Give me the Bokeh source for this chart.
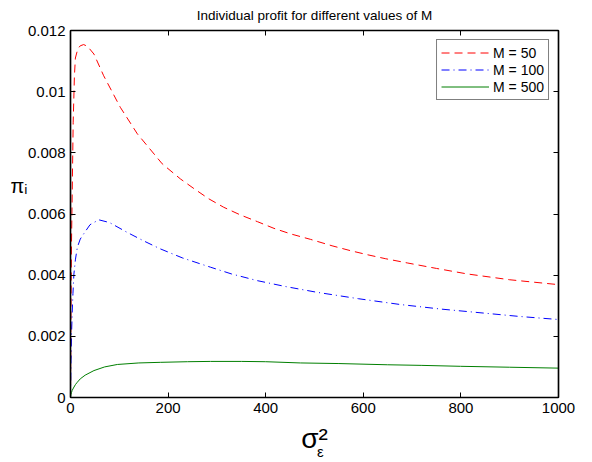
from bokeh.plotting import figure
from bokeh.models import (Range1d, LinearAxis, Legend, LegendItem, FixedTicker,
                          Title)
from bokeh.embed import file_html
from bokeh.resources import INLINE

FONT = "Liberation Sans"

# ---- data ----
x_m50 = [0, 1, 2, 3.5, 5.5, 8, 10, 15, 20, 27, 35, 48, 68, 102, 137, 188,
         225, 253, 283, 314, 348, 383, 417, 451, 492, 536, 574, 608, 645,
         690, 750, 813, 900, 1000]
y_m50 = [0, 0.0030, 0.0050, 0.0067, 0.0090, 0.0105, 0.0111, 0.0114, 0.01150,
         0.01154, 0.01148, 0.01123, 0.01052, 0.00949, 0.00862, 0.00764,
         0.00715, 0.00683, 0.00650, 0.00622, 0.00597, 0.00575, 0.00553,
         0.00535, 0.00517, 0.00496, 0.00480, 0.00467, 0.00454, 0.00440,
         0.00422, 0.00404, 0.00385, 0.00369]

x_m100 = [0, 1, 2, 3.4, 5, 7, 10, 14, 20, 27, 40, 58, 80, 116, 150, 184,
          230, 287, 330, 383, 440, 505, 590, 676, 760, 847, 920, 1000]
y_m100 = [0, 0.0012, 0.0020, 0.00274, 0.0034, 0.00404, 0.00450, 0.00491,
          0.00518, 0.00535, 0.00565, 0.00581, 0.00572, 0.00540, 0.00512,
          0.00486, 0.00456, 0.00426, 0.00404, 0.00382, 0.00363, 0.00344,
          0.00323, 0.00304, 0.00289, 0.00276, 0.00265, 0.00255]

x_m500 = [0, 1, 2, 3.4, 6, 10, 14, 20, 30, 48, 70, 96, 140, 184, 240, 287,
          350, 400, 471, 550, 650, 720, 799, 900, 1000]
y_m500 = [0, 0.00010, 0.00016, 0.00023, 0.00031, 0.00042, 0.00050, 0.00061,
          0.00073, 0.00088, 0.00100, 0.00108, 0.00113, 0.00115, 0.00117,
          0.00118, 0.00118, 0.00117, 0.00113, 0.00111, 0.00107, 0.00105,
          0.00102, 0.00099, 0.00096]

series_labels = ["M = 50", "M = 100", "M = 500"]
x_ticks = [0, 200, 400, 600, 800, 1000]
y_ticks = [0, 0.002, 0.004, 0.006, 0.008, 0.01, 0.012]
y_tick_text = ["0", "0.002", "0.004", "0.006", "0.008", "0.01", "0.012"]
title_text = "Individual profit for different values of M"

# axis titles (symbol, script) and where along the axis they sit
x_title_main = "σ²"
x_title_sub = "ε"
x_title_at = 500
x_title_sub_at = 512
y_title = "πᵢ"
y_title_at = 0.0069

# ---- figure ----
p = figure(width=592, height=462, output_backend="svg",
           toolbar_location=None,
           x_range=Range1d(0, 1000), y_range=Range1d(0, 0.012),
           min_border_left=70, min_border_right=34, min_border_top=30,
           min_border_bottom=65, x_axis_type=None, y_axis_type=None)
p.grid.visible = False
p.outline_line_color = "black"
p.outline_line_width = 1.2
p.background_fill_color = "white"
p.border_fill_color = "white"


def make_axis(ticks, show_labels, overrides=None):
    ax = LinearAxis(ticker=FixedTicker(ticks=ticks))
    ax.minor_tick_line_color = None
    ax.major_tick_in = 5
    ax.major_tick_out = 0
    ax.major_tick_line_color = "black"
    ax.axis_line_color = "black"
    ax.axis_line_width = 1.5
    ax.major_tick_line_width = 1
    if show_labels:
        ax.major_label_text_font = FONT
        ax.major_label_text_font_size = "15px"
        ax.major_label_text_color = "black"
        ax.major_label_standoff = 5
        if overrides:
            ax.major_label_overrides = overrides
    else:
        ax.major_label_text_font_size = "1px"
        ax.major_label_text_color = None
        ax.major_label_standoff = 0
    return ax


def title_axis(at, text, size, standoff):
    ax = LinearAxis(ticker=FixedTicker(ticks=[at]),
                    major_label_overrides={at: text})
    ax.axis_line_color = None
    ax.major_tick_line_color = None
    ax.minor_tick_line_color = None
    ax.major_tick_in = 0
    ax.major_tick_out = 0
    ax.major_label_text_font = FONT
    ax.major_label_text_font_size = size
    ax.major_label_text_color = "black"
    ax.major_label_standoff = standoff
    return ax


p.add_layout(make_axis(x_ticks, True), "below")
p.add_layout(title_axis(x_title_at, x_title_main, "28px", 7), "below")
p.add_layout(title_axis(x_title_sub_at, x_title_sub, "15px", -14), "below")
p.add_layout(make_axis(y_ticks, True, dict(zip(y_ticks, y_tick_text))), "left")
p.add_layout(title_axis(y_title_at, y_title, "20px", -3), "left")
p.add_layout(make_axis(x_ticks, False), "above")
p.add_layout(make_axis(y_ticks, False), "right")

title = Title(text=title_text, align="center", text_font=FONT,
              text_font_size="13.5px", text_font_style="normal",
              text_color="black", vertical_align="top", standoff=12)
p.add_layout(title, "above")

r1 = p.line(x_m50, y_m50, line_color="#FF0000", line_width=1,
            line_dash="8 5")
r2 = p.line(x_m100, y_m100, line_color="#0000FF", line_width=1,
            line_dash="8 4 1 4")
r3 = p.line(x_m500, y_m500, line_color="#007F00", line_width=1)

legend = Legend(items=[LegendItem(label=series_labels[0], renderers=[r1]),
                       LegendItem(label=series_labels[1], renderers=[r2]),
                       LegendItem(label=series_labels[2], renderers=[r3])],
                location="top_right")
legend.margin = 9
legend.padding = 4
legend.spacing = 0
legend.label_height = 17
legend.glyph_height = 17
legend.glyph_width = 48
legend.label_standoff = 4
legend.label_text_font = FONT
legend.label_text_font_size = "14px"
legend.label_text_color = "black"
legend.border_line_color = "black"
legend.border_line_width = 1
legend.background_fill_alpha = 1
p.add_layout(legend)

open("out.html", "w").write(file_html(p, INLINE))
